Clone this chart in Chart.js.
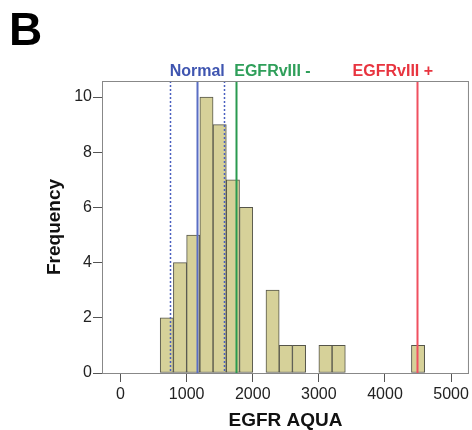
<!DOCTYPE html>
<html>
<head>
<meta charset="utf-8">
<script src="https://cdn.jsdelivr.net/npm/chart.js@4.4.0/dist/chart.umd.min.js"></script>
<style>body{margin:0;background:#fff}</style>
</head>
<body>
<canvas id="myChart" width="472" height="430"></canvas>
<script>
    // Data-----
    const binStarts = [600, 800, 1000, 1200, 1400, 1600, 1800, 2000, 2200, 2400,
                       2600, 2800, 3000, 3200, 3400, 3600, 3800, 4000, 4200, 4400];
    const binWidth = 200;
    const counts = [2, 4, 5, 10, 9, 7, 6, 0, 3, 1, 1, 0, 1, 1, 0, 0, 0, 0, 0, 1];

    const xTicks = [0, 1000, 2000, 3000, 4000, 5000];
    const yTicks = [0, 2, 4, 6, 8, 10];

    // reference lines: normal low, normal mean, normal high, EGFRvIII -, EGFRvIII +
    const lineValues = [755, 1160, 1565, 1750, 4485];
    const groupLabels = ['Normal', 'EGFRvIII -', 'EGFRvIII +'];
    const labelValues = [1160, 1720, 3510];
    // Data-----

    const FONT = '"Liberation Sans", Arial, sans-serif';
    const blue = '#3f55b0';
    const green = '#2f9f5a';
    const red = '#e8343f';

    const lineStyles = [
        {color: '#4a5fc0', dash: [2, 2], width: 1.5},
        {color: '#5a6ec4', dash: [], width: 2},
        {color: '#4a5fc0', dash: [2, 2], width: 1.5},
        {color: '#2a9a50', dash: [], width: 2},
        {color: '#f05060', dash: [], width: 2}
    ];
    const labelStyles = [
        {color: blue, align: 'center'},
        {color: green, align: 'left'},
        {color: red, align: 'left'}
    ];

    const extras = {
        id: 'extras',
        afterDatasetsDraw(chart) {
            const {ctx, chartArea, scales: {x}} = chart;
            ctx.save();
            lineValues.forEach((v, i) => {
                const px = Math.round(x.getPixelForValue(v)) + 0.5;
                const s = lineStyles[i];
                ctx.strokeStyle = s.color;
                ctx.lineWidth = s.width;
                ctx.setLineDash(s.dash);
                ctx.beginPath();
                ctx.moveTo(px, chartArea.top);
                ctx.lineTo(px, chartArea.bottom);
                ctx.stroke();
            });
            ctx.setLineDash([]);
            // frame
            ctx.strokeStyle = '#888';
            ctx.lineWidth = 1;
            ctx.strokeRect(chartArea.left + 0.5, chartArea.top + 0.5,
                chartArea.right - chartArea.left - 1, chartArea.bottom - chartArea.top);
            // group labels
            ctx.font = 'bold 16px ' + FONT;
            ctx.textBaseline = 'middle';
            groupLabels.forEach((t, i) => {
                ctx.fillStyle = labelStyles[i].color;
                ctx.textAlign = labelStyles[i].align;
                ctx.fillText(t, x.getPixelForValue(labelValues[i]), 72);
            });
            // panel letter
            ctx.font = 'bold 46px ' + FONT;
            ctx.fillStyle = '#000';
            ctx.textAlign = 'left';
            ctx.textBaseline = 'alphabetic';
            ctx.fillText('B', 9, 45);
            ctx.restore();
        }
    };

    const config = {
        type: 'bar',
        data: {
            datasets: [{
                data: binStarts.map((b, i) => ({x: b + binWidth / 2, y: counts[i] || null})),
                backgroundColor: '#d6d199',
                borderColor: '#55554a',
                borderWidth: 1,
                borderSkipped: false,
                barPercentage: 1,
                categoryPercentage: 1
            }]
        },
        options: {
            responsive: false,
            animation: false,
            layout: {padding: {top: 81, right: 2, left: 0, bottom: 0}},
            plugins: {legend: false, tooltip: false},
            scales: {
                x: {
                    type: 'linear',
                    offset: false,
                    min: -280,
                    max: 5270,
                    afterBuildTicks(s) { s.ticks = xTicks.map(v => ({value: v})); },
                    afterFit(s) { s.height = 57; },
                    grid: {drawOnChartArea: false, offset: false, tickLength: 9, color: '#555'},
                    border: {color: '#888'},
                    ticks: {color: '#222', padding: 3, font: {family: FONT, size: 16}, callback: v => String(v)},
                    title: {
                        display: true, text: 'EGFR AQUA', color: '#111',
                        padding: {top: 0, bottom: 0},
                        font: {family: FONT, size: 19, weight: 'bold', lineHeight: 1}
                    }
                },
                y: {
                    min: 0,
                    max: 10.58,
                    afterBuildTicks(s) { s.ticks = yTicks.map(v => ({value: v})); },
                    afterFit(s) { s.width = 102; },
                    grid: {drawOnChartArea: false, tickLength: 9, color: '#555'},
                    border: {color: '#888'},
                    ticks: {color: '#222', padding: 1, font: {family: FONT, size: 16}},
                    title: {
                        display: true, text: 'Frequency', color: '#111',
                        padding: {top: 45, bottom: 0},
                        font: {family: FONT, size: 19, weight: 'bold', lineHeight: 1}
                    }
                }
            }
        },
        plugins: [extras]
    };

    var myChart = new Chart(document.getElementById('myChart'), config);
</script>
</body>
</html>
